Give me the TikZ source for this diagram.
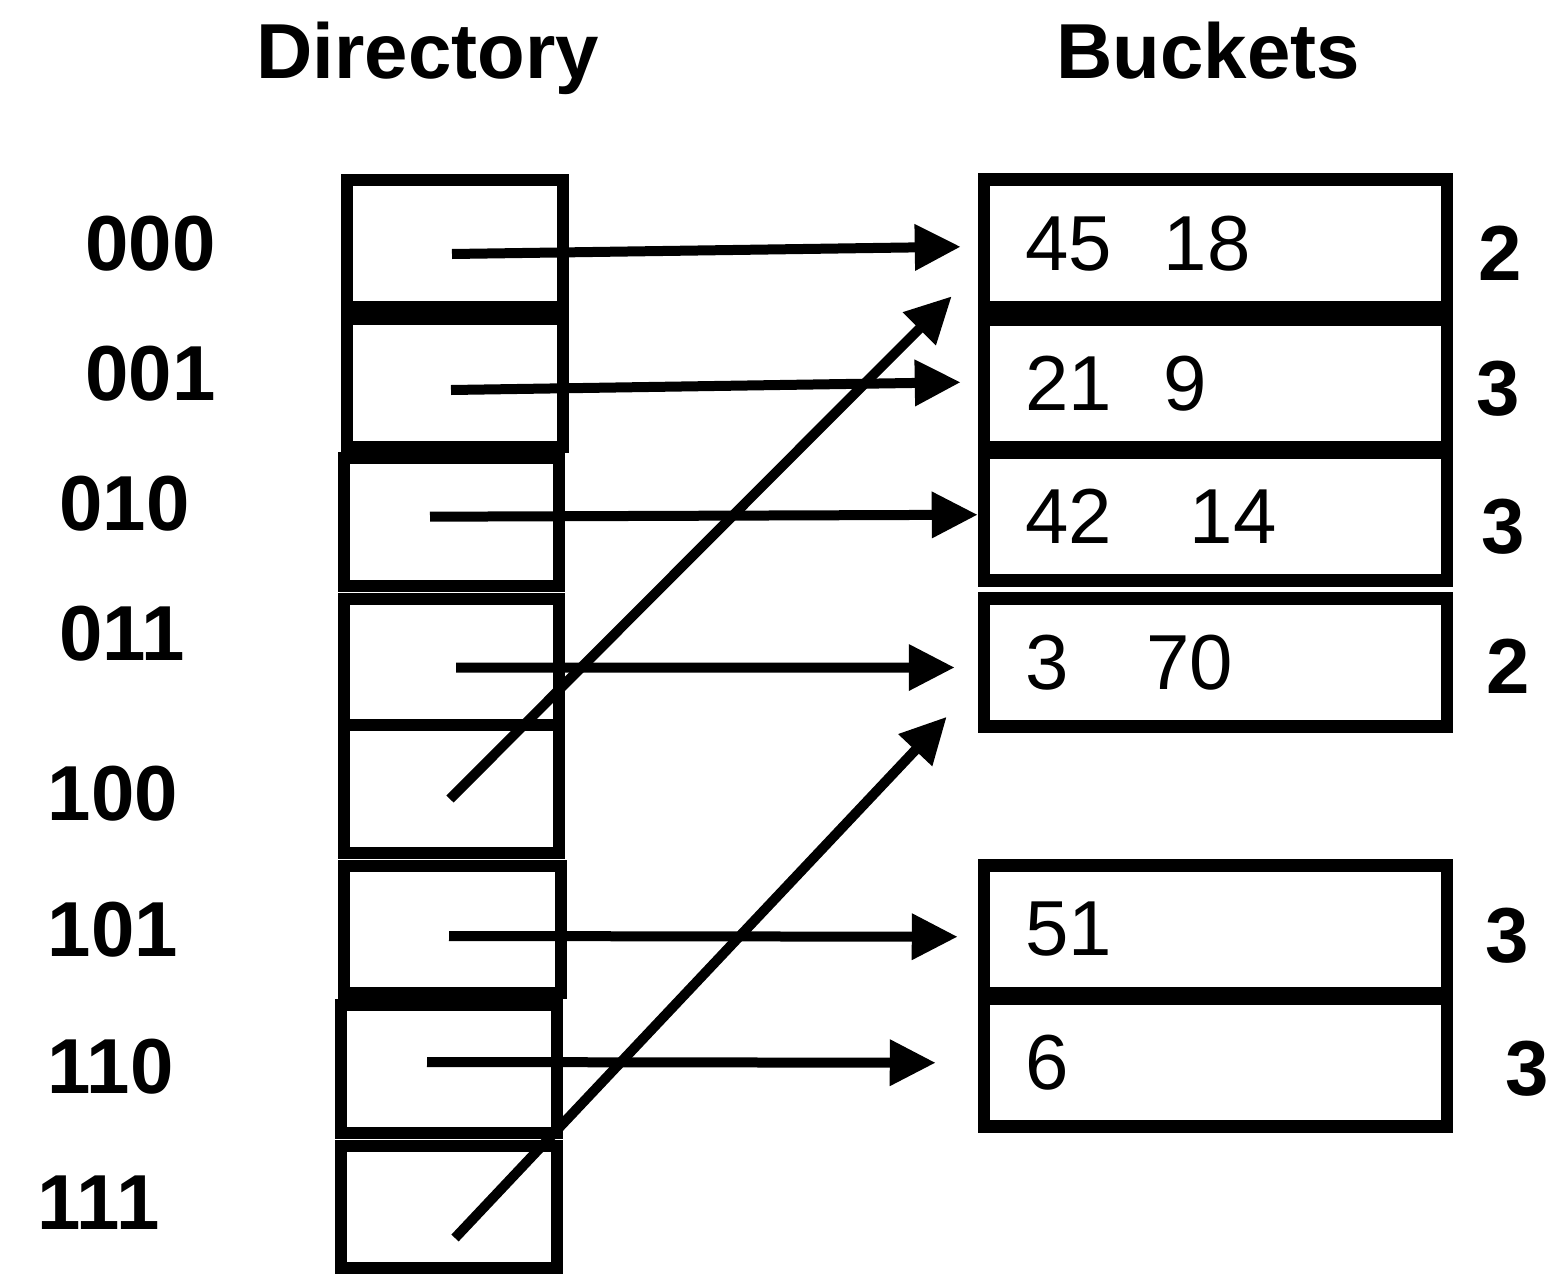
\documentclass[tikz,border=0pt]{standalone}
\usepackage{fontspec}
\setmainfont{Liberation Sans}
\usetikzlibrary{arrows.meta,calc}

\begin{document}
\begin{tikzpicture}[x=0.5pt,y=-0.5pt,
cell/.style={draw,line width=6pt,minimum width=108pt,inner sep=0pt},
bucket/.style={draw,line width=6.25pt,minimum width=231.5pt,minimum height=63.75pt,text width=190.5pt,inner xsep=20.5pt,inner ysep=0pt,align=left,font=\fontsize{39pt}{45pt}\selectfont},
bits/.style={anchor=base west,inner sep=0pt,font=\fontsize{39pt}{45pt}\selectfont\bfseries},
ptr/.style={-{Triangle[length=23pt,width=22pt]},line width=5pt}]
\useasboundingbox (0,0) rectangle (1558,1274);
% headings
\node[bits] (hdir) at (256,78) {Directory};
\node[bits] (hbkt) at (1056,78) {Buckets};
% directory
\node[cell,minimum height=63.5pt] (d000) at (455,243.5) {};
\node[cell,minimum height=64pt] (d001) at (455,383) {};
\node[cell,minimum width=107.5pt,minimum height=64pt] (d010) at (451.5,522) {};
\node[cell,minimum width=107.5pt,minimum height=63pt] (d011) at (451.5,662) {};
\node[cell,minimum width=107.5pt,minimum height=64pt] (d100) at (451.5,789) {};
\node[cell,minimum width=108.5pt,minimum height=63.5pt] (d101) at (452.5,929.5) {};
\node[cell,minimum height=64pt] (d110) at (449,1069) {};
\node[cell,minimum height=61pt] (d111) at (449,1207) {};
\node[bits] (l000) at (85,270) {000};
\node[bits] (l001) at (85,400) {001};
\node[bits] (l010) at (59,530) {010};
\node[bits] (l011) at (59,660) {011};
\node[bits] (l100) at (47.5,820) {100};
\node[bits] (l101) at (47.5,956) {101};
\node[bits] (l110) at (47.5,1093) {110};
\node[bits] (l111) at (37.5,1229) {111};
% buckets
\node[bucket] (b1) at (1215.5,243.25) {45~~18};
\node[bucket] (b2) at (1215.5,383.25) {21~~9};
\node[bucket] (b3) at (1215.5,516.75) {42~~~14};
\node[bucket,minimum height=64pt] (b4) at (1215.5,662.5) {3~~~70};
\node[bucket] (b5) at (1215.5,929.25) {51};
\node[bucket] (b6) at (1215.5,1062.75) {6};
\node[bits] (k1) at (1478,280) {2};
\node[bits] (k2) at (1476,415) {3};
\node[bits] (k3) at (1481,553) {3};
\node[bits] (k4) at (1486,693) {2};
\node[bits] (k5) at (1485,962) {3};
\node[bits] (k6) at (1505,1095) {3};
% pointers
\coordinate (p000) at (452,254);
\coordinate (p001) at (451,390);
\coordinate (p010) at (430,516.7);
\coordinate (p011) at (456,667.7);
\coordinate (p100) at (450,799);
\coordinate (p101) at (449,936);
\coordinate (p110) at (427,1062);
\coordinate (p111) at (455,1238);
\draw[ptr] (p000) -- ($(b1.west)+(-17,3.5)$);
\draw[ptr] (p001) -- ($(b2.west)+(-17,-1)$);
\draw[ptr] (p010) -- ($(b3.west)+(0,-2)$);
\draw[ptr] (p011) -- ($(b4.west)+(-23,5)$);
\draw[ptr] (p100) -- ($(b1.south west)+(-26,-17)$);
\draw[ptr] (p101) -- ($(b5.west)+(-20,7.5)$);
\draw[ptr] (p110) -- ($(b6.west)+(-42,0)$);
\draw[ptr] (p111) -- ($(b4.south west)+(-31,-16)$);
\end{tikzpicture}
\end{document}
